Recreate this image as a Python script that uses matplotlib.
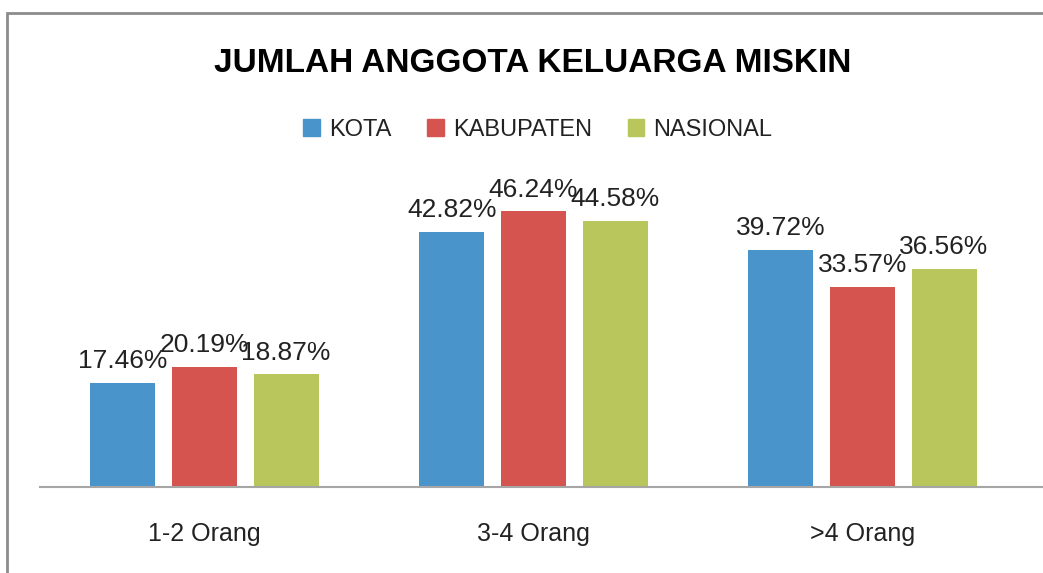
import matplotlib.pyplot as plt
import matplotlib.patches as mpatches
import numpy as np

categories = ["1-2 Orang", "3-4 Orang", ">4 Orang"]
series = ["KOTA", "KABUPATEN", "NASIONAL"]
kota = [17.46, 42.82, 39.72]
kabupaten = [20.19, 46.24, 33.57]
nasional = [18.87, 44.58, 36.56]
colors = ["#4A94CC", "#D55450", "#B8C65B"]

plt.rcParams['font.family'] = ['Liberation Sans', 'DejaVu Sans']

fig = plt.figure(figsize=(10.43, 5.73), dpi=100)
ax = fig.add_axes([40 / 1043, 86 / 573, 1003 / 1043, 328 / 573])

x = np.arange(len(categories))
width = 0.198
step = 0.248
for i, (name, vals) in enumerate(zip(series, [kota, kabupaten, nasional])):
    bars = ax.bar(x + (i - 1) * step, vals, width, color=colors[i], label=name)
    for b, v in zip(bars, vals):
        ax.annotate(f"{v:.2f}%", (b.get_x() + b.get_width() / 2, v),
                    xytext=(0, 7), textcoords="offset points",
                    ha="center", va="bottom", fontsize=19, color="#222222")

ax.set_xlim(-0.5, -0.5 + 1003 / 329)
ax.set_ylim(0, 55)
ax.set_yticks([])
ax.set_xticks(x)
ax.set_xticklabels(categories, fontsize=18, color="#222222")
ax.tick_params(axis="x", length=0, pad=25)
for s in ["top", "left", "right"]:
    ax.spines[s].set_visible(False)
ax.spines["bottom"].set_color("#a6a6a6")
ax.spines["bottom"].set_linewidth(1.5)

fig.text(533 / 1043, 1 - 63 / 573, "JUMLAH ANGGOTA KELUARGA MISKIN",
         ha="center", va="center", fontsize=24, fontweight="bold", color="black")

handles = [mpatches.Patch(color=c) for c in colors]
fig.legend(handles, series, loc="center", bbox_to_anchor=(538 / 1043, 1 - 130 / 573),
           ncol=3, frameon=False, fontsize=17, handlelength=0.7, handleheight=0.7,
           handletextpad=0.4, columnspacing=1.5, labelcolor="#222222")

# chart frame
fig.add_artist(mpatches.Rectangle((7 / 1043, -0.1), 1.2, 1 - 13 / 573 + 0.1,
                                  transform=fig.transFigure, fill=False,
                                  edgecolor="#8c8c8c", linewidth=2))

plt.savefig("out.png", dpi=100)
